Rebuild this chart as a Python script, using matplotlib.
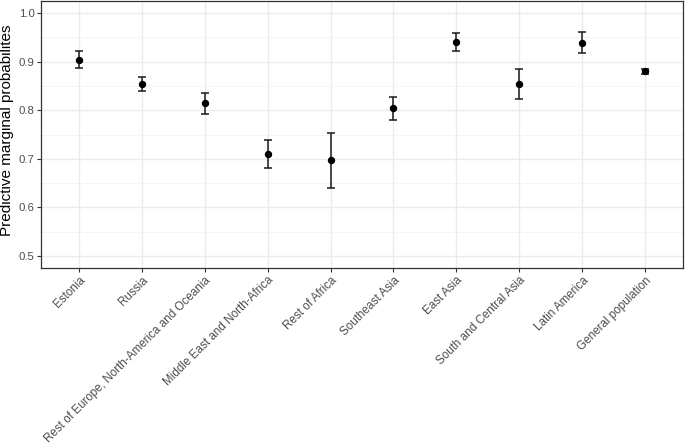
import matplotlib
matplotlib.use("Agg")
import matplotlib.pyplot as plt
from matplotlib.ticker import MultipleLocator

plt.rcParams['font.family'] = ['Liberation Sans', 'DejaVu Sans']

# Predicted marginal probabilities with 95% intervals
groups = ["Estonia", "Russia", "Rest of Europe, North-America and Oceania",
          "Middle East and North-Africa", "Rest of Africa", "Southeast Asia",
          "East Asia", "South and Central Asia", "Latin America",
          "General population"]
prob = [0.904, 0.854, 0.815, 0.710, 0.697, 0.804, 0.940, 0.854, 0.938, 0.880]
lower = [0.886, 0.840, 0.793, 0.681, 0.641, 0.780, 0.921, 0.823, 0.917, 0.875]
upper = [0.921, 0.869, 0.836, 0.739, 0.754, 0.827, 0.959, 0.885, 0.960, 0.885]

x = list(range(len(groups)))
err_lo = [p - l for p, l in zip(prob, lower)]
err_hi = [u - p for p, u in zip(prob, upper)]

fig = plt.figure(figsize=(6.85, 4.44), dpi=100)
ax = fig.add_axes([41 / 685, 1 - 268 / 444, 642 / 685, 267 / 444])

ax.errorbar(x, prob, yerr=[err_lo, err_hi], fmt='o', color='black',
            ecolor='#1a1a1a', elinewidth=1.1, capsize=2.6, capthick=1.1,
            markersize=4.3, zorder=3)

ax.set_xlim(-0.6, len(groups) - 1 + 0.6)
ax.set_ylim(0.4755, 1.0245)
ax.yaxis.set_major_locator(MultipleLocator(0.1))
ax.yaxis.set_minor_locator(MultipleLocator(0.05))
ax.set_xticks(x)
ax.set_xticklabels(groups, rotation=45, ha='right', rotation_mode='anchor',
                   fontsize=8.4)

ax.grid(True, which='major', color='#EBEBEB', linewidth=1.0, zorder=0)
ax.grid(True, which='minor', axis='y', color='#F3F3F3', linewidth=0.6, zorder=0)
ax.set_axisbelow(True)
ax.tick_params(axis='y', which='minor', length=0)
ax.tick_params(which='major', length=2.6, width=0.8, color='#333333',
               labelcolor='#4D4D4D', pad=2)
ax.tick_params(axis='y', labelsize=8.2)
ax.yaxis.set_major_formatter(plt.FuncFormatter(lambda v, _: f"{v:.1f}"))

for s in ax.spines.values():
    s.set_color('#333333')
    s.set_linewidth(0.9)

ax.set_ylabel("Predictive marginal probabilites", fontsize=11, color='black')
ax.yaxis.set_label_coords(-27 / 642, 0.515)

fig.savefig("out.png", dpi=100)
